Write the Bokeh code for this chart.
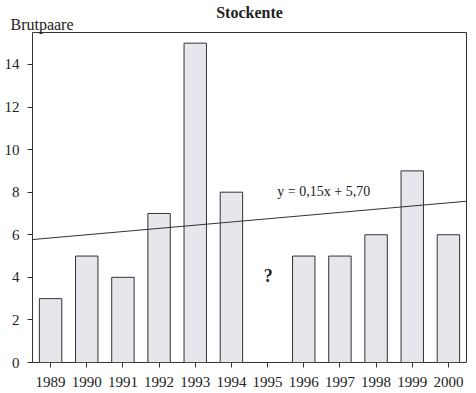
from bokeh.plotting import figure
from bokeh.models import Range1d, Label, LinearAxis, FixedTicker
from bokeh.embed import file_html
from bokeh.resources import INLINE

years = ["1989", "1990", "1991", "1992", "1993", "1994", "1995", "1996", "1997", "1998", "1999", "2000"]
pairs = [3, 5, 4, 7, 15, 8, None, 5, 5, 6, 9, 6]
slope = 0.15
intercept = 5.70
y_ticks = [0, 2, 4, 6, 8, 10, 12, 14]
title_text = "Stockente"
y_title = "Brutpaare"

FONT = "Liberation Serif"

xs = list(range(1, len(years) + 1))
bx = [x for x, v in zip(xs, pairs) if v is not None]
by = [v for v in pairs if v is not None]

p = figure(width=476, height=393, output_backend="svg", toolbar_location=None,
           x_range=Range1d(0.5, len(years) + 0.5), y_range=Range1d(0, 15.5),
           min_border_left=32, min_border_right=10, min_border_top=32, min_border_bottom=31)
p.title = None
p.grid.visible = False
p.outline_line_color = "#333333"
p.outline_line_width = 1

p.vbar(x=bx, top=by, width=0.62, bottom=0, fill_color="#e6e7ec", line_color="#333333", line_width=1)

x0, x1 = 0.5, len(years) + 0.5
p.line([x0, x1], [slope * x0 + intercept, slope * x1 + intercept], line_color="#333333", line_width=1)

p.add_layout(Label(x=7.27, y=8.03, text="y = 0,15x + 5,70", text_font=FONT, text_baseline="alphabetic",
                   text_font_size="14px", text_color="#222222"))
p.add_layout(Label(x=7.02, y=4.04, text="?", text_font=FONT, text_font_size="18px", text_baseline="alphabetic",
                   text_font_style="bold", text_align="center", text_color="#222222"))

bottom_ax = p.below[0]
left_ax = p.left[0]

# top axis carrying the title and the y-axis caption
brut_x = 0.763
top = LinearAxis(ticker=FixedTicker(ticks=[brut_x]), major_label_overrides={brut_x: y_title},
                 axis_label=title_text)
top.axis_line_color = None
top.major_tick_line_color = None
top.minor_tick_line_color = None
top.major_tick_in = 0
top.major_tick_out = 0
top.major_label_standoff = 0
top.major_label_text_font = FONT
top.major_label_text_font_size = "16px"
top.major_label_text_color = "#222222"
top.axis_label_text_font = FONT
top.axis_label_text_font_size = "16px"
top.axis_label_text_font_style = "bold"
top.axis_label_text_color = "#222222"
top.axis_label_standoff = -8
p.add_layout(top, "above")

bottom_ax.ticker = FixedTicker(ticks=xs)
bottom_ax.major_label_overrides = {x: y for x, y in zip(xs, years)}
left_ax.ticker = FixedTicker(ticks=y_ticks)
for ax in (bottom_ax, left_ax):
    ax.major_label_text_font = FONT
    ax.major_label_text_font_size = "15px"
    ax.major_label_text_color = "#222222"
    ax.axis_line_color = None
    ax.major_tick_line_color = "#333333"
    ax.minor_tick_line_color = None
    ax.major_tick_in = 0
    ax.major_tick_out = 5
left_ax.major_label_standoff = 8
bottom_ax.major_label_standoff = 9

open("out.html", "w").write(file_html(p, INLINE))
